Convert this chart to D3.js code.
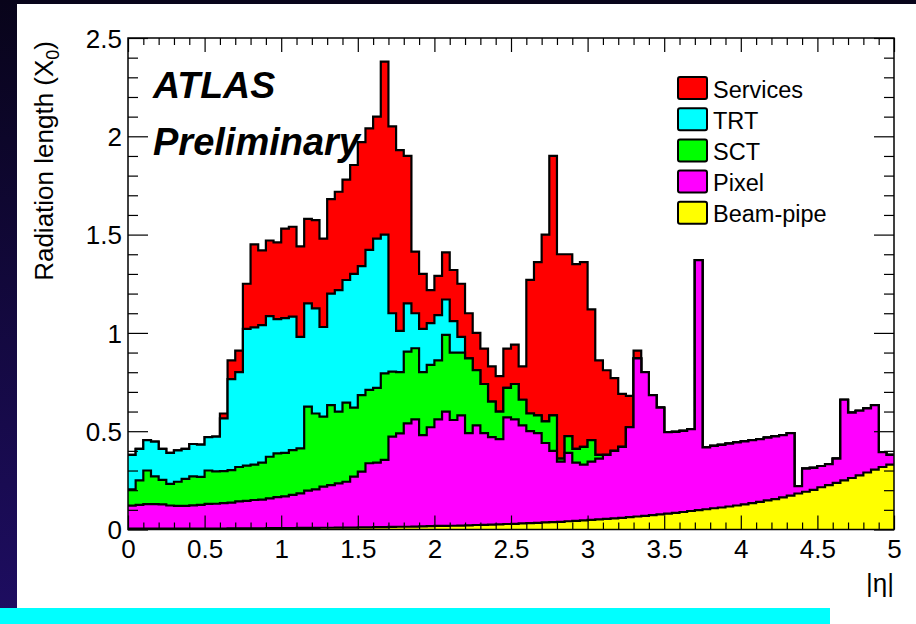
<!DOCTYPE html>
<html>
<head>
<meta charset="utf-8">
<script src="https://cdn.jsdelivr.net/npm/d3@7"></script>
<style>
  html, body { margin: 0; padding: 0; background: #ffffff; }
  svg { display: block; }
</style>
</head>
<body>
<svg id="chart" width="916" height="624"></svg>
<script>
// Material budget of the inner detector: radiation length per |eta| bin (width 0.05),
// one array per stacked component, from the beam-pipe upwards.
const binWidth = 0.05;

const beamPipe = [
  0.005,0.005,0.005,0.005,0.005,0.005,0.005,0.005,0.005,0.005,
  0.005,0.005,0.005,0.006,0.006,0.006,0.006,0.006,0.007,0.007,
  0.007,0.007,0.008,0.008,0.008,0.009,0.009,0.010,0.010,0.010,
  0.011,0.011,0.012,0.012,0.013,0.014,0.014,0.015,0.016,0.017,
  0.018,0.018,0.019,0.020,0.021,0.023,0.024,0.025,0.026,0.028,
  0.029,0.031,0.032,0.034,0.036,0.038,0.039,0.042,0.044,0.046,
  0.049,0.051,0.054,0.057,0.059,0.063,0.066,0.069,0.073,0.077,
  0.081,0.085,0.089,0.094,0.099,0.103,0.108,0.112,0.117,0.122,
  0.128,0.134,0.141,0.148,0.155,0.163,0.172,0.183,0.192,0.202,
  0.215,0.226,0.237,0.250,0.262,0.275,0.290,0.305,0.318,0.330
];

const pixel = [
  0.116,0.120,0.124,0.124,0.123,0.117,0.115,0.115,0.118,0.120,
  0.125,0.126,0.129,0.131,0.137,0.140,0.144,0.146,0.151,0.158,
  0.161,0.169,0.176,0.190,0.196,0.209,0.217,0.225,0.233,0.259,
  0.283,0.326,0.328,0.342,0.459,0.475,0.526,0.545,0.464,0.503,
  0.542,0.582,0.538,0.560,0.469,0.507,0.466,0.445,0.434,0.542,
  0.531,0.499,0.468,0.456,0.404,0.362,0.306,0.348,0.296,0.284,
  0.296,0.309,0.326,0.343,0.361,0.457,0.804,0.731,0.611,0.543,
  0.414,0.412,0.413,0.416,1.271,0.315,0.317,0.318,0.320,0.321,
  0.320,0.320,0.319,0.319,0.319,0.317,0.318,0.037,0.118,0.111,
  0.108,0.107,0.123,0.410,0.332,0.329,0.326,0.328,0.075,0.050
];

const sct = [
  0.083,0.125,0.171,0.141,0.124,0.110,0.123,0.138,0.147,0.143,
  0.170,0.165,0.163,0.165,0.175,0.179,0.180,0.188,0.212,0.222,
  0.222,0.228,0.229,0.427,0.386,0.356,0.407,0.365,0.402,0.351,
  0.390,0.373,0.380,0.440,0.331,0.311,0.365,0.362,0.320,0.317,
  0.300,0.390,0.343,0.320,0.380,0.280,0.250,0.180,0.140,0.150,
  0.180,0.130,0.090,0.090,0.110,0.180,0.015,0.085,0.070,0.090,
  0.110,0.020,0,0,0,0,0,0,0,0,
  0,0,0,0,0,0,0,0,0,0,
  0,0,0,0,0,0,0,0,0,0,
  0,0,0,0,0,0,0,0,0,0
];

const trt = [
  0.176,0.160,0.155,0.177,0.158,0.158,0.159,0.152,0.165,0.164,
  0.170,0.176,0.268,0.463,0.482,0.695,0.698,0.700,0.715,0.683,
  0.685,0.679,0.567,0.525,0.535,0.456,0.567,0.618,0.624,0.680,
  0.656,0.712,0.760,0.706,0.297,0.210,0.245,0.178,0.220,0.213,
  0.230,0.180,0.160,0.080,0,0,0,0,0,0,
  0,0,0,0,0,0,0,0,0,0,
  0,0,0,0,0,0,0,0,0,0,
  0,0,0,0,0,0,0,0,0,0,
  0,0,0,0,0,0,0,0,0,0,
  0,0,0,0,0,0,0,0,0,0
];

const services = [
  0,0,0,0,0,0,0,0,0,0,
  0,0,0.025,0.095,0.110,0.230,0.422,0.380,0.385,0.390,
  0.455,0.457,0.460,0.430,0.449,0.450,0.480,0.500,0.511,0.554,
  0.630,0.618,0.620,0.880,0.950,0.920,0.750,0.313,0.280,0.168,
  0.200,0.240,0.260,0.270,0.230,0.190,0.180,0.180,0.180,0.200,
  0.200,0.170,0.680,0.780,0.950,1.320,1.040,0.925,0.940,0.940,
  0.665,0.480,0.430,0.370,0.270,0.160,0.040,0,0,0,
  0,0,0,0,0,0,0,0,0,0,
  0,0,0,0,0,0,0,0,0,0,
  0,0,0,0,0,0,0,0,0,0
];

const xTickLabels = ["0","0.5","1","1.5","2","2.5","3","3.5","4","4.5","5"];
const yTickLabels = ["0","0.5","1","1.5","2","2.5"];

const seriesKeys   = ["beam", "pixel", "sct", "trt", "services"];
const seriesNames  = {beam: "Beam-pipe", pixel: "Pixel", sct: "SCT", trt: "TRT", services: "Services"};
const seriesColors = {beam: "#ffff00", pixel: "#ff00ff", sct: "#00ff00", trt: "#00ffff", services: "#ff0000"};
const legendOrder  = ["services", "trt", "sct", "pixel", "beam"];

const FONT = "'Liberation Sans', Arial, Helvetica, sans-serif";

const svg = d3.select("#chart");

// ---- page backdrop: dark slide background, white canvas, cyan strip ----
const defs = svg.append("defs");
const grad = defs.append("linearGradient")
  .attr("id", "slideBg").attr("x1", 0).attr("y1", 0).attr("x2", 0).attr("y2", 1);
grad.append("stop").attr("offset", "0%").attr("stop-color", "#08041a");
grad.append("stop").attr("offset", "100%").attr("stop-color", "#1e0d62");

svg.append("rect").attr("x", 0).attr("y", 0).attr("width", 916).attr("height", 624)
  .attr("fill", "url(#slideBg)");
svg.append("rect").attr("x", 17).attr("y", 4).attr("width", 899).attr("height", 620)
  .attr("fill", "#ffffff");
svg.append("rect").attr("x", 0).attr("y", 608).attr("width", 830).attr("height", 16)
  .attr("fill", "#00ffff");

// ---- scales ----
const x = d3.scaleLinear().domain([0, 5]).range([128, 894]);
const y = d3.scaleLinear().domain([0, 2.5]).range([529.5, 38]);

// ---- stacked histogram ----
const rows = beamPipe.map((b, i) => ({
  eta: i * binWidth,
  beam: b, pixel: pixel[i], sct: sct[i], trt: trt[i], services: services[i]
}));
// closing edge so the last bin spans up to |eta| = 5
rows.push(Object.assign({}, rows[rows.length - 1], {eta: 5}));

const stacked = d3.stack().keys(seriesKeys)(rows);

const area = d3.area()
  .curve(d3.curveStepAfter)
  .x(d => x(d.data.eta))
  .y0(y(0))
  .y1(d => y(d[1]));

const outline = d3.line()
  .curve(d3.curveStepAfter)
  .x(d => x(d.data.eta))
  .y(d => y(d[1]));

const histo = svg.append("g");
// cumulative sums drawn from the full total down to the beam-pipe alone
stacked.slice().reverse().forEach(s => {
  histo.append("path")
    .attr("d", area(s))
    .attr("fill", seriesColors[s.key]);
  histo.append("path")
    .attr("d", outline(s))
    .attr("fill", "none")
    .attr("stroke", "#000")
    .attr("stroke-width", 2.2)
    .attr("stroke-linejoin", "miter");
});

// ---- axes with inward ticks on all four sides ----
const xMajor = xTickLabels.map(Number);
const yMajor = yTickLabels.map(Number);
const xMinor = d3.range(0, 51).map(i => i / 10).filter(v => Math.abs(v * 2 - Math.round(v * 2)) > 1e-6);
const yMinor = d3.range(0, 26).map(i => i / 10).filter(v => Math.abs(v * 2 - Math.round(v * 2)) > 1e-6);

function styleAxis(g) {
  g.select(".domain").remove();
  g.selectAll(".tick line").attr("stroke", "#000").attr("stroke-width", 1.2);
  g.attr("font-family", FONT).attr("font-size", 26);
  g.selectAll(".tick text").attr("fill", "#000");
}

// bottom
svg.append("g").attr("transform", `translate(0,${y(0)})`)
  .call(d3.axisBottom(x).tickValues(xMinor).tickSize(-7).tickFormat(""))
  .call(styleAxis);
const xAxisG = svg.append("g").attr("transform", `translate(0,${y(0)})`)
  .call(d3.axisBottom(x).tickValues(xMajor).tickSize(-14).tickPadding(0)
        .tickFormat((d, i) => xTickLabels[i]))
  .call(styleAxis);
xAxisG.selectAll(".tick text").attr("y", 28.5).attr("dy", 0);

// top
svg.append("g").attr("transform", `translate(0,${y(2.5)})`)
  .call(d3.axisTop(x).tickValues(xMinor).tickSize(-7).tickFormat(""))
  .call(styleAxis);
svg.append("g").attr("transform", `translate(0,${y(2.5)})`)
  .call(d3.axisTop(x).tickValues(xMajor).tickSize(-14).tickFormat(""))
  .call(styleAxis);

// left
svg.append("g").attr("transform", `translate(${x(0)},0)`)
  .call(d3.axisLeft(y).tickValues(yMinor).tickSize(-10).tickFormat(""))
  .call(styleAxis);
const yAxisG = svg.append("g").attr("transform", `translate(${x(0)},0)`)
  .call(d3.axisLeft(y).tickValues(yMajor).tickSize(-20).tickPadding(6)
        .tickFormat((d, i) => yTickLabels[i]))
  .call(styleAxis);
yAxisG.selectAll(".tick text").attr("dy", "0.36em");

// right
svg.append("g").attr("transform", `translate(${x(5)},0)`)
  .call(d3.axisRight(y).tickValues(yMinor).tickSize(-10).tickFormat(""))
  .call(styleAxis);
svg.append("g").attr("transform", `translate(${x(5)},0)`)
  .call(d3.axisRight(y).tickValues(yMajor).tickSize(-20).tickFormat(""))
  .call(styleAxis);

// frame
svg.append("rect")
  .attr("x", x(0)).attr("y", y(2.5))
  .attr("width", x(5) - x(0)).attr("height", y(0) - y(2.5))
  .attr("fill", "none").attr("stroke", "#000").attr("stroke-width", 1.5);

// ---- axis titles ----
const yTitle = svg.append("text")
  .attr("transform", `translate(53,${y(2.5) + 3}) rotate(-90)`)
  .attr("text-anchor", "end")
  .attr("font-family", FONT).attr("font-size", 26).attr("fill", "#000");
yTitle.append("tspan").text("Radiation length (X");
yTitle.append("tspan").attr("font-size", 18).attr("dy", "0.35em").text("0");
yTitle.append("tspan").attr("dy", "-0.25em").text(")");

svg.append("text")
  .attr("x", x(5)).attr("y", 592)
  .attr("text-anchor", "end")
  .attr("font-family", FONT).attr("font-size", 26).attr("fill", "#000")
  .text("|η|");

// ---- experiment label ----
svg.append("text")
  .attr("x", 153).attr("y", 98)
  .attr("font-family", FONT).attr("font-size", 37.5)
  .attr("font-weight", "bold").attr("font-style", "italic").attr("fill", "#000")
  .text("ATLAS");
svg.append("text")
  .attr("x", 153).attr("y", 155)
  .attr("font-family", FONT).attr("font-size", 38)
  .attr("font-weight", "bold").attr("font-style", "italic").attr("fill", "#000")
  .text("Preliminary");

// ---- legend ----
const legend = svg.append("g").attr("transform", "translate(678,77)");
legendOrder.forEach((k, i) => {
  const row = legend.append("g").attr("transform", `translate(0,${i * 31.2})`);
  row.append("rect")
    .attr("x", 0).attr("y", 0).attr("width", 29).attr("height", 22).attr("rx", 2)
    .attr("fill", seriesColors[k]).attr("stroke", "#000").attr("stroke-width", 2);
  row.append("text")
    .attr("x", 35).attr("y", 20.5)
    .attr("font-family", FONT).attr("font-size", 23.5).attr("fill", "#000")
    .text(seriesNames[k]);
});
</script>
</body>
</html>
